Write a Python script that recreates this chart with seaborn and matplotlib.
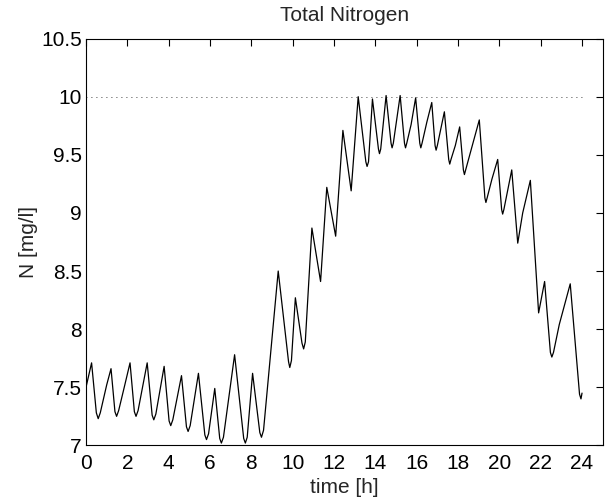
import numpy as np
import pandas as pd
import seaborn as sns
import matplotlib.pyplot as plt
from matplotlib.ticker import FuncFormatter

# values (time in h, total nitrogen in mg/l)
time_h = [0.0, 0.27, 0.5, 0.59, 0.69, 1.0, 1.21, 1.4, 1.48, 1.58, 1.85,
          2.13, 2.34, 2.42, 2.52, 2.96, 3.2, 3.28, 3.38, 3.78, 4.02, 4.1,
          4.2, 4.62, 4.86, 4.94, 5.04, 5.44, 5.75, 5.83, 5.93, 6.23, 6.47,
          6.55, 6.65, 7.19, 7.63, 7.71, 7.8, 8.06, 8.41, 8.49, 8.59, 9.3,
          9.8, 9.86, 9.94, 10.13, 10.45, 10.53, 10.61, 10.93, 11.35, 11.65,
          12.08, 12.43, 12.83, 13.17, 13.54, 13.6, 13.67, 13.86, 14.15, 14.2,
          14.26, 14.52, 14.76, 14.81, 14.87, 15.2, 15.41, 15.46, 15.52,
          15.73, 15.95, 16.15, 16.2, 16.26, 16.49, 16.73, 16.89, 16.94, 17.0,
          17.34, 17.55, 17.6, 17.66, 17.87, 18.08, 18.26, 18.31, 18.37,
          18.63, 19.03, 19.3, 19.35, 19.41, 19.64, 19.92, 20.11, 20.16,
          20.22, 20.6, 20.89, 21.13, 21.5, 21.9, 22.19, 22.47, 22.54, 22.62,
          22.9, 23.43, 23.88, 23.95, 24.0]
nitrogen = [7.5, 7.71, 7.28, 7.23, 7.28, 7.52, 7.66, 7.29, 7.25, 7.3, 7.5,
            7.71, 7.29, 7.25, 7.3, 7.71, 7.26, 7.22, 7.27, 7.68, 7.21, 7.17,
            7.22, 7.6, 7.16, 7.12, 7.17, 7.62, 7.09, 7.05, 7.1, 7.49, 7.06,
            7.02, 7.07, 7.78, 7.06, 7.02, 7.07, 7.62, 7.11, 7.07, 7.13, 8.5,
            7.72, 7.67, 7.73, 8.27, 7.88, 7.83, 7.89, 8.87, 8.41, 9.22,
            8.8, 9.71, 9.19, 10.0, 9.44, 9.4, 9.44, 9.98, 9.55, 9.51,
            9.55, 10.01, 9.6, 9.56, 9.6, 10.01, 9.6, 9.56, 9.6,
            9.76, 9.99, 9.6, 9.56, 9.6, 9.78, 9.95, 9.58, 9.54, 9.58,
            9.87, 9.46, 9.42, 9.46, 9.58, 9.74, 9.37, 9.33, 9.37,
            9.54, 9.8, 9.13, 9.09, 9.13, 9.29, 9.46, 9.03, 8.99,
            9.03, 9.37, 8.74, 9.0, 9.28, 8.14, 8.41, 7.8, 7.76, 7.8,
            8.04, 8.39, 7.44, 7.4, 7.45]
limit_x = [0, 24]
limit_y = [10, 10]

df = pd.DataFrame({'time': time_h, 'N': nitrogen})
limit = pd.DataFrame({'time': limit_x, 'N': limit_y})

sns.set_style('white')
plt.rcParams['font.family'] = ['Liberation Sans', 'DejaVu Sans']

fig = plt.figure(figsize=(6.1, 5.01), dpi=100)
ax = fig.add_axes([0.141, 0.111, 0.847, 0.812])

sns.lineplot(data=limit, x='time', y='N', ax=ax, color='k',
             linewidth=0.6, linestyle=(0, (1, 5)))
sns.lineplot(data=df, x='time', y='N', ax=ax, color='k', linewidth=0.9)

ax.set_xlim(0, 25)
ax.set_ylim(7, 10.5)
ax.set_xticks(np.arange(0, 25, 2))
ax.set_yticks(np.arange(7, 10.51, 0.5))
ax.yaxis.set_major_formatter(FuncFormatter(lambda v, p: f'{v:g}'))
ax.tick_params(direction='in', length=5, width=0.8, top=True, right=True,
               labelsize=15, colors='k')
ax.tick_params(axis='x', pad=6)
ax.tick_params(axis='y', pad=3)
for s in ax.spines.values():
    s.set_color('k')
    s.set_linewidth(0.8)

ax.set_title('Total Nitrogen', fontsize=15, pad=13)
ax.set_xlabel('time [h]', fontsize=15, labelpad=4)
ax.set_ylabel('N [mg/l]', fontsize=15, labelpad=2)

fig.savefig('out.png', dpi=100)
